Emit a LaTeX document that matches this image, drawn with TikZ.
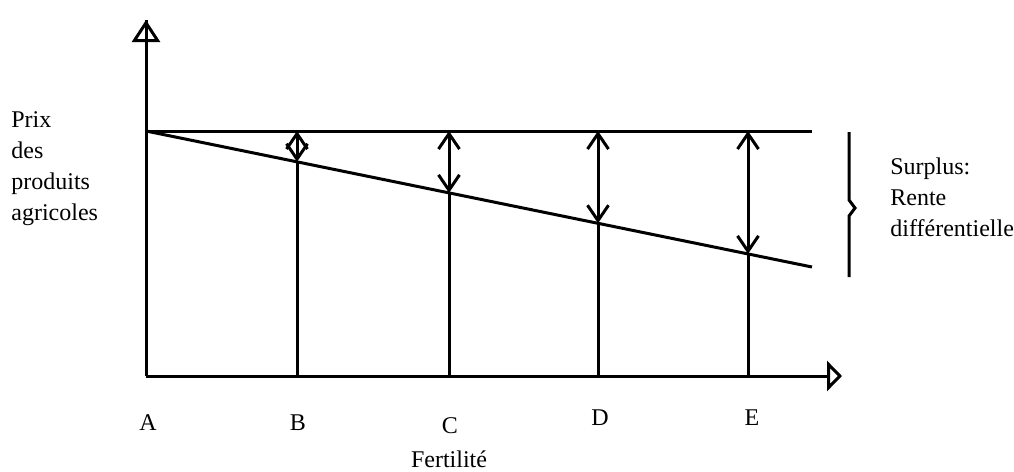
\documentclass[tikz,border=0pt]{standalone}
\usepackage{fontspec}
\setmainfont{Liberation Serif}
\usetikzlibrary{arrows.meta}
\begin{document}
\begin{tikzpicture}[x=0.5pt, y=-0.5pt,
        axe/.style={line width=1.5pt},
        fleche/.style={line width=1.5pt, {Straight Barb[length=7.7pt, width=10.5pt, line width=1.5pt]}-{Straight Barb[length=7.7pt, width=10.5pt, line width=1.5pt]}},
        lettre/.style={anchor=base, inner sep=0pt, font=\fontsize{12}{15.5}\selectfont},
        legende/.style={anchor=north west, inner sep=0pt, align=left, font=\fontsize{12}{15.5}\selectfont}
    ]
        \useasboundingbox (0,0) rectangle (1014,472);

        % axes
        \coordinate (O) at (146,376);
        \coordinate (ytop) at (146,20);
        \coordinate (xend) at (842,376);
        \draw[axe] (O) -- (ytop);
        \draw[axe, -{Triangle[open, length=11pt, width=14pt, line width=1.5pt]}] (O) -- (ytop);
        \draw[axe, -{Triangle[open, length=7.5pt, width=15pt, line width=1.5pt]}] (O) -- (xend);

        % prix et cout
        \coordinate (prixA) at (146,131);
        \coordinate (prixfin) at (812,131);
        \coordinate (coutfin) at (812,267);
        \draw[axe] (prixA) -- (prixfin);
        \draw[axe] (prixA) -- (coutfin);

        % parcelles
        \coordinate (xB) at (297,376); \coordinate (hB) at (297,131); \coordinate (bB) at (297,161.8);
        \coordinate (xC) at (449,376); \coordinate (hC) at (449,131); \coordinate (bC) at (449,192.9);
        \coordinate (xD) at (598,376); \coordinate (hD) at (598,131); \coordinate (bD) at (598,223.3);
        \coordinate (xE) at (748,376); \coordinate (hE) at (748,131); \coordinate (bE) at (748,253.9);
        \foreach \p in {B,C,D,E} {
            \draw[axe] (x\p) -- (b\p);
            \draw[fleche] (b\p) -- (h\p);
        }

        % accolade
        \coordinate (acc1) at (849,132);
        \coordinate (acc2) at (849,277);
        \draw[axe] (acc1) -- (849,200) -- (855,208) -- (849,216) -- (acc2);

        % textes
        \node[legende] (prix) at (11,111) {Prix\\des\\produits\\agricoles};
        \node[legende] (surplus) at (890,157) {Surplus:\\Rente\\différentielle};
        \node[lettre] (A) at (148,430) {A};
        \node[lettre] (B) at (298,430) {B};
        \node[lettre] (C) at (450,433) {C};
        \node[lettre] (D) at (600,425) {D};
        \node[lettre] (E) at (752,425) {E};
        \node[lettre] (fertilite) at (449,467) {Fertilité};
    \end{tikzpicture}
\end{document}
